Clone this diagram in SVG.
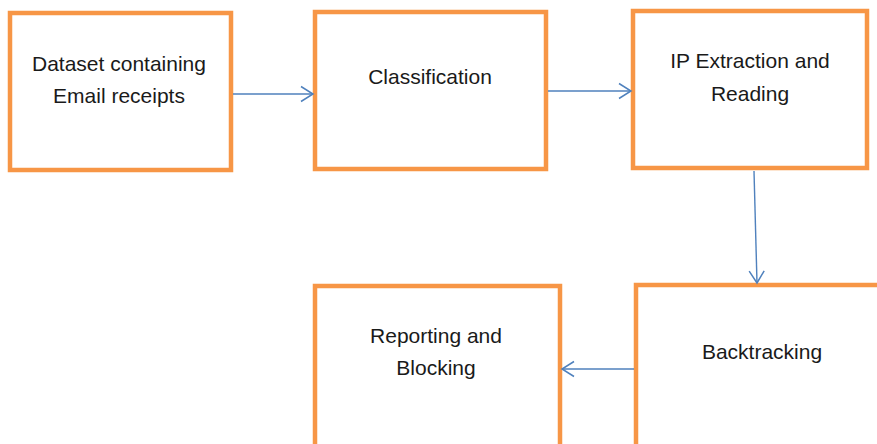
<svg xmlns="http://www.w3.org/2000/svg" width="877" height="444" viewBox="0 0 877 444">
  <style>
    .box { fill: #ffffff; stroke: #F79646; stroke-width: 4.5; }
    .lbl { font-family: "Liberation Sans", Arial, sans-serif; font-size: 21px; fill: #1a1a1a; text-anchor: middle; }
    .conn { stroke: #4F81BD; stroke-width: 1.4; fill: none; marker-end: url(#arr); }
  </style>
  <defs>
    <marker id="arr" markerUnits="userSpaceOnUse" markerWidth="16" markerHeight="18" viewBox="0 0 16 18" refX="13" refY="9" orient="auto">
      <path d="M1,1.5 L13,9 L1,16.5" fill="none" stroke="#4F81BD" stroke-width="1.5"/>
    </marker>
  </defs>
  <rect width="877" height="444" fill="#ffffff"/>

  <g id="node-dataset">
    <rect class="box" x="10" y="13" width="221" height="157"/>
    <text class="lbl" x="119" y="71">Dataset containing</text>
    <text class="lbl" x="119" y="103">Email receipts</text>
  </g>
  <g id="node-classification">
    <rect class="box" x="315" y="12" width="231" height="157"/>
    <text class="lbl" x="430" y="84">Classification</text>
  </g>
  <g id="node-ip">
    <rect class="box" x="633" y="11" width="234" height="157"/>
    <text class="lbl" x="750" y="68">IP Extraction and</text>
    <text class="lbl" x="750" y="101">Reading</text>
  </g>
  <g id="node-reporting">
    <rect class="box" x="315" y="286" width="245" height="180"/>
    <text class="lbl" x="436" y="343">Reporting and</text>
    <text class="lbl" x="436" y="375">Blocking</text>
  </g>
  <g id="node-backtracking">
    <rect class="box" x="636" y="285" width="260" height="180"/>
    <text class="lbl" x="762" y="359">Backtracking</text>
  </g>

  <g id="connectors">
    <line class="conn" x1="233" y1="94" x2="313" y2="94"/>
    <line class="conn" x1="548" y1="91" x2="631" y2="91"/>
    <line class="conn" x1="754" y1="171" x2="757" y2="283"/>
    <line class="conn" x1="634" y1="369" x2="562" y2="369"/>
  </g>
</svg>
